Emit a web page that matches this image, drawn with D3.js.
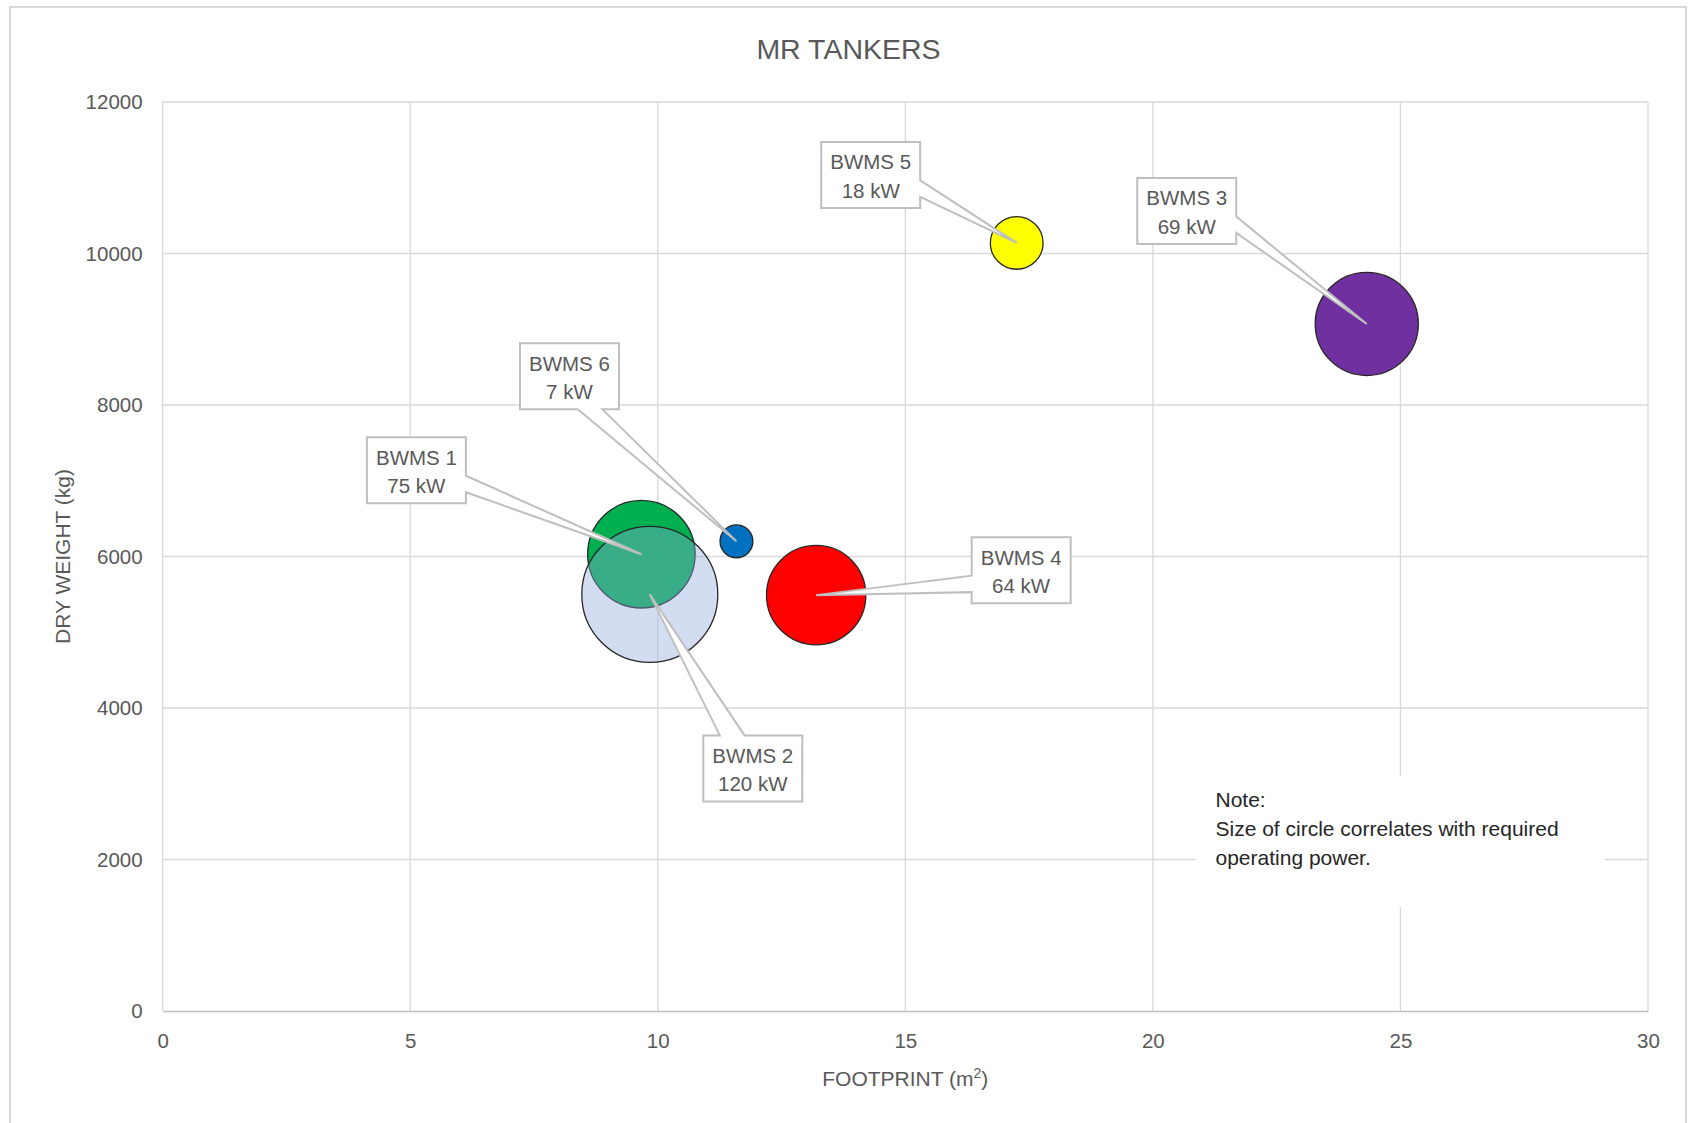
<!DOCTYPE html>
<html>
<head>
<meta charset="utf-8">
<script src="https://cdn.jsdelivr.net/npm/d3@7"></script>
<style>
  html, body { margin: 0; padding: 0; background: #fff; }
  svg { display: block; font-family: "Liberation Sans", Arial, sans-serif; }
</style>
</head>
<body>
<div class="chart-area"></div>
<script>
// data
const systems = ['BWMS 1', 'BWMS 2', 'BWMS 3', 'BWMS 4', 'BWMS 5', 'BWMS 6'];
const footprint = [9.67, 9.84, 24.32, 13.2, 17.25, 11.59];     // m2
const dryWeight = [6030, 5500, 9070, 5490, 10140, 6200];        // kg
const power = [75, 120, 69, 64, 18, 7];                         // kW
const xTicks = [0, 5, 10, 15, 20, 25, 30];
const yTicks = [0, 2000, 4000, 6000, 8000, 10000, 12000];
const noteLines = ['Note:', 'Size of circle correlates with required', 'operating power.'];

// styling / layout, kept apart from the values
const bubbleColors = ['#00b050', '#8faadc', '#7030a0', '#ff0000', '#ffff00', '#0070c0'];
const bubbleOpacity = [1, 0.4, 1, 1, 1, 1];
/** callout box centre, offset in px from its bubble */
const calloutOffset = [[-225, -84], [103, 174], [-180, -113], [205, -25], [-146, -68], [-167, -165]];

const layout = {
  width: 1688,
  height: 1123,
  left: 162.6,
  right: 1648,
  top: 102,
  bottom: 1011,
  boxW: 99,
  boxH: 66,
  textColor: '#595959',
  gridColor: '#d9d9d9',
};

const svg = d3.select('.chart-area')
  .append('svg')
  .attr('width', layout.width)
  .attr('height', layout.height);

// chart border (bottom edge runs off the picture)
svg.append('rect')
  .attr('x', 10).attr('y', 7)
  .attr('width', 1676).attr('height', 1140)
  .attr('fill', '#fff')
  .attr('stroke', '#d9d9d9')
  .attr('stroke-width', 2);

const x = d3.scaleLinear().domain([0, 30]).range([layout.left, layout.right]);
const y = d3.scaleLinear().domain([0, 12000]).range([layout.bottom, layout.top]);
const r = d3.scaleSqrt().domain([0, 120]).range([0, 68]);

// gridlines
svg.append('g')
  .selectAll('line.v')
  .data(xTicks)
  .enter()
  .append('line')
  .attr('x1', d => x(d)).attr('x2', d => x(d))
  .attr('y1', layout.top).attr('y2', layout.bottom)
  .attr('stroke', layout.gridColor)
  .attr('stroke-width', 1.3);

svg.append('g')
  .selectAll('line.h')
  .data(yTicks.filter(d => d > 0))
  .enter()
  .append('line')
  .attr('x1', layout.left).attr('x2', layout.right)
  .attr('y1', d => y(d)).attr('y2', d => y(d))
  .attr('stroke', layout.gridColor)
  .attr('stroke-width', 1.3);

// axes, drawn with d3 but with ticks hidden like the excel look
const xAxis = svg.append('g')
  .attr('transform', `translate(0,${layout.bottom})`)
  .call(d3.axisBottom(x).tickValues(xTicks).tickSize(0).tickPadding(37).tickFormat(d3.format('d')));
xAxis.select('.domain').attr('stroke', '#bfbfbf').attr('stroke-width', 1.5);

const yAxis = svg.append('g')
  .attr('transform', `translate(${layout.left},0)`)
  .call(d3.axisLeft(y).tickValues(yTicks).tickSize(0).tickPadding(20).tickFormat(d3.format('d')));
yAxis.select('.domain').remove();

svg.selectAll('.tick text')
  .attr('font-family', '"Liberation Sans", Arial, sans-serif')
  .attr('font-size', 20.5)
  .attr('fill', layout.textColor);
xAxis.selectAll('.tick text').attr('dy', 0);

// titles
svg.append('text')
  .attr('x', 848.5).attr('y', 59)
  .attr('text-anchor', 'middle')
  .attr('font-size', 28.5)
  .attr('fill', layout.textColor)
  .text('MR TANKERS');

const xTitle = svg.append('text')
  .attr('x', (layout.left + layout.right) / 2).attr('y', 1086)
  .attr('text-anchor', 'middle')
  .attr('font-size', 21)
  .attr('fill', layout.textColor);
xTitle.append('tspan').text('FOOTPRINT (m');
xTitle.append('tspan').attr('font-size', 14).attr('dy', -8).text('2');
xTitle.append('tspan').attr('dy', 8).text(')');

svg.append('text')
  .attr('transform', `translate(70,${(layout.top + layout.bottom) / 2}) rotate(-90)`)
  .attr('text-anchor', 'middle')
  .attr('font-size', 21)
  .attr('fill', layout.textColor)
  .text('DRY WEIGHT (kg)');

// note box sits over the gridlines
svg.append('rect')
  .attr('x', 1196).attr('y', 776)
  .attr('width', 409).attr('height', 131)
  .attr('fill', '#fff');

svg.append('text')
  .attr('x', 1215.5).attr('y', 807)
  .attr('font-size', 21)
  .attr('fill', '#262626')
  .selectAll('tspan')
  .data(noteLines)
  .enter()
  .append('tspan')
  .attr('x', 1215.5)
  .attr('dy', (_d, i) => i === 0 ? 0 : 29)
  .text(d => d);

const points = systems.map((name, i) => ({
  name,
  fx: footprint[i],
  wt: dryWeight[i],
  kw: power[i],
  color: bubbleColors[i],
  opacity: bubbleOpacity[i],
  offset: calloutOffset[i],
}));

// bubbles
svg.append('g')
  .selectAll('circle')
  .data(points)
  .enter()
  .append('circle')
  .attr('cx', d => x(d.fx))
  .attr('cy', d => y(d.wt))
  .attr('r', d => r(d.kw))
  .attr('fill', d => d.color)
  .attr('fill-opacity', d => d.opacity)
  .attr('stroke', '#262626')
  .attr('stroke-width', 1.3);

/**
 * Rectangle callout with a wedge pointing at (tx, ty), same rule as excel's wedgeRectCallout
 */
const calloutPath = (bx, by, w, h, tx, ty) => {
  const dx = tx - (bx + w / 2);
  const dy = ty - (by + h / 2);
  const vertical = Math.abs(dy) > Math.abs(dx * h / w);
  const xg1 = bx + w * (dx > 0 ? 7 : 2) / 12;
  const xg2 = bx + w * (dx > 0 ? 10 : 5) / 12;
  const yg1 = by + h * (dy > 0 ? 7 : 2) / 12;
  const yg2 = by + h * (dy > 0 ? 10 : 5) / 12;
  const pts = [[bx, by]];
  if (vertical && dy < 0) pts.push([xg1, by], [tx, ty], [xg2, by]);
  pts.push([bx + w, by]);
  if (!vertical && dx > 0) pts.push([bx + w, yg1], [tx, ty], [bx + w, yg2]);
  pts.push([bx + w, by + h]);
  if (vertical && dy > 0) pts.push([xg2, by + h], [tx, ty], [xg1, by + h]);
  pts.push([bx, by + h]);
  if (!vertical && dx < 0) pts.push([bx, yg2], [tx, ty], [bx, yg1]);
  return d3.line()(pts) + 'Z';
};

const callouts = svg.append('g')
  .selectAll('g')
  .data(points)
  .enter()
  .append('g');

callouts.append('path')
  .attr('d', d => {
    const cx = x(d.fx) + d.offset[0];
    const cy = y(d.wt) + d.offset[1];
    return calloutPath(cx - layout.boxW / 2, cy - layout.boxH / 2, layout.boxW, layout.boxH, x(d.fx), y(d.wt));
  })
  .attr('fill', '#fff')
  .attr('stroke', '#bfbfbf')
  .attr('stroke-width', 2)
  .attr('stroke-linejoin', 'miter');

callouts.append('text')
  .attr('x', d => x(d.fx) + d.offset[0])
  .attr('y', d => y(d.wt) + d.offset[1] - 5.5)
  .attr('text-anchor', 'middle')
  .attr('font-size', 20.5)
  .attr('fill', layout.textColor)
  .text(d => d.name);

callouts.append('text')
  .attr('x', d => x(d.fx) + d.offset[0])
  .attr('y', d => y(d.wt) + d.offset[1] + 23)
  .attr('text-anchor', 'middle')
  .attr('font-size', 20.5)
  .attr('fill', layout.textColor)
  .text(d => `${d.kw} kW`);
</script>
</body>
</html>
